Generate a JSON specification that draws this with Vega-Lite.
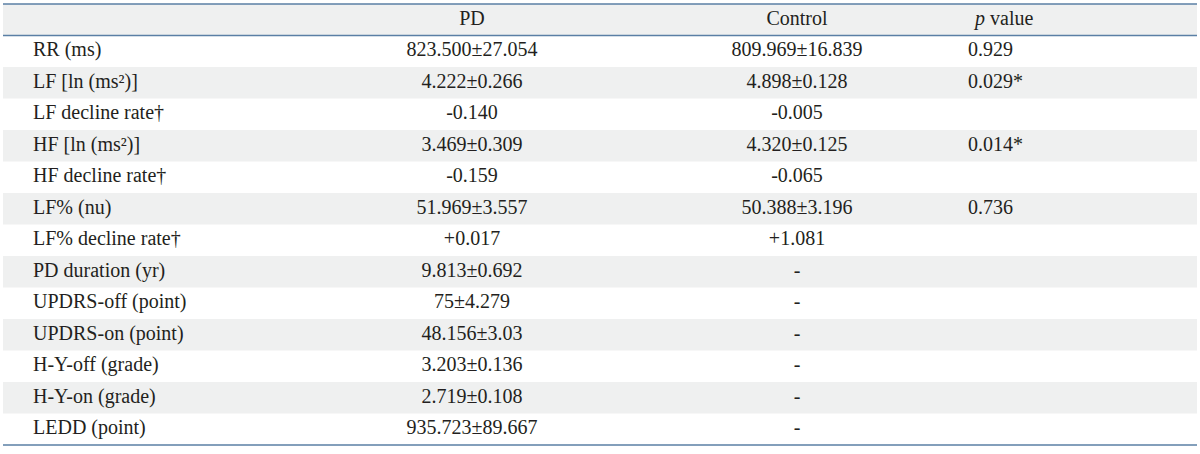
{
  "$schema": "https://vega.github.io/schema/vega-lite/v6.json",
  "width": 1194,
  "height": 441,
  "autosize": {"type": "none"},
  "padding": {"left": 3, "top": 4, "right": 3, "bottom": 9},
  "background": "white",
  "config": {
    "view": {"stroke": null},
    "text": {"font": "Liberation Serif", "fontSize": 20, "color": "#231f20", "baseline": "middle", "dy": -1}
  },
  "datasets": {
    "rows": [
      {"i": 0, "variable": "", "PD": "PD", "Control": "Control", "p": ""},
      {"i": 1, "variable": "RR (ms)", "PD": "823.500±27.054", "Control": "809.969±16.839", "p": "0.929"},
      {"i": 2, "variable": "LF [ln (ms²)]", "PD": "4.222±0.266", "Control": "4.898±0.128", "p": "0.029*"},
      {"i": 3, "variable": "LF decline rate†", "PD": "-0.140", "Control": "-0.005", "p": ""},
      {"i": 4, "variable": "HF [ln (ms²)]", "PD": "3.469±0.309", "Control": "4.320±0.125", "p": "0.014*"},
      {"i": 5, "variable": "HF decline rate†", "PD": "-0.159", "Control": "-0.065", "p": ""},
      {"i": 6, "variable": "LF% (nu)", "PD": "51.969±3.557", "Control": "50.388±3.196", "p": "0.736"},
      {"i": 7, "variable": "LF% decline rate†", "PD": "+0.017", "Control": "+1.081", "p": ""},
      {"i": 8, "variable": "PD duration (yr)", "PD": "9.813±0.692", "Control": "-", "p": ""},
      {"i": 9, "variable": "UPDRS-off (point)", "PD": "75±4.279", "Control": "-", "p": ""},
      {"i": 10, "variable": "UPDRS-on (point)", "PD": "48.156±3.03", "Control": "-", "p": ""},
      {"i": 11, "variable": "H-Y-off (grade)", "PD": "3.203±0.136", "Control": "-", "p": ""},
      {"i": 12, "variable": "H-Y-on (grade)", "PD": "2.719±0.108", "Control": "-", "p": ""},
      {"i": 13, "variable": "LEDD (point)", "PD": "935.723±89.667", "Control": "-", "p": ""}
    ],
    "header": [{"i": 0, "p": "p", "v": "value"}]
  },
  "data": {"name": "rows"},
  "layer": [
    {
      "transform": [{"filter": "datum.i % 2 == 0"}],
      "mark": {"type": "rect", "color": "#eff0f0"},
      "encoding": {
        "y": {"field": "i", "type": "ordinal", "scale": {"type": "band", "domain": [0,1,2,3,4,5,6,7,8,9,10,11,12,13], "paddingInner": 0, "paddingOuter": 0}, "axis": null},
        "x": {"value": 0},
        "x2": {"value": "width"}
      }
    },
    {
      "transform": [{"filter": "datum.i > 0"}],
      "mark": {"type": "text", "align": "left"},
      "encoding": {
        "y": {"field": "i", "type": "ordinal", "scale": {"type": "band", "domain": [0,1,2,3,4,5,6,7,8,9,10,11,12,13], "paddingInner": 0, "paddingOuter": 0}, "axis": null},
        "x": {"value": 30},
        "text": {"field": "variable"}
      }
    },
    {
      "mark": {"type": "text", "align": "center"},
      "encoding": {
        "y": {"field": "i", "type": "ordinal", "scale": {"type": "band", "domain": [0,1,2,3,4,5,6,7,8,9,10,11,12,13], "paddingInner": 0, "paddingOuter": 0}, "axis": null},
        "x": {"value": 469},
        "text": {"field": "PD"}
      }
    },
    {
      "mark": {"type": "text", "align": "center"},
      "encoding": {
        "y": {"field": "i", "type": "ordinal", "scale": {"type": "band", "domain": [0,1,2,3,4,5,6,7,8,9,10,11,12,13], "paddingInner": 0, "paddingOuter": 0}, "axis": null},
        "x": {"value": 794},
        "text": {"field": "Control"}
      }
    },
    {
      "transform": [{"filter": "datum.i > 0"}],
      "mark": {"type": "text", "align": "left"},
      "encoding": {
        "y": {"field": "i", "type": "ordinal", "scale": {"type": "band", "domain": [0,1,2,3,4,5,6,7,8,9,10,11,12,13], "paddingInner": 0, "paddingOuter": 0}, "axis": null},
        "x": {"value": 965},
        "text": {"field": "p"}
      }
    },
    {
      "data": {"name": "header"},
      "mark": {"type": "text", "align": "right", "fontStyle": "italic"},
      "encoding": {
        "y": {"field": "i", "type": "ordinal", "scale": {"type": "band", "domain": [0,1,2,3,4,5,6,7,8,9,10,11,12,13], "paddingInner": 0, "paddingOuter": 0}, "axis": null},
        "x": {"value": 982},
        "text": {"field": "p"}
      }
    },
    {
      "data": {"name": "header"},
      "mark": {"type": "text", "align": "left"},
      "encoding": {
        "y": {"field": "i", "type": "ordinal", "scale": {"type": "band", "domain": [0,1,2,3,4,5,6,7,8,9,10,11,12,13], "paddingInner": 0, "paddingOuter": 0}, "axis": null},
        "x": {"value": 987},
        "text": {"field": "v"}
      }
    },
    {
      "data": {"values": [{"i": 0}, {"i": 1}]},
      "mark": {"type": "rule", "color": "#5a7fa5", "strokeWidth": 1.5},
      "encoding": {
        "y": {"field": "i", "type": "ordinal", "bandPosition": 0, "scale": {"type": "band", "domain": [0,1,2,3,4,5,6,7,8,9,10,11,12,13], "paddingInner": 0, "paddingOuter": 0}, "axis": null},
        "x": {"value": 0},
        "x2": {"value": "width"}
      }
    },
    {
      "data": {"values": [{"i": 13}]},
      "mark": {"type": "rule", "color": "#5a7fa5", "strokeWidth": 1.5},
      "encoding": {
        "y": {"value": "height"},
        "x": {"value": 0},
        "x2": {"value": "width"}
      }
    }
  ]
}
